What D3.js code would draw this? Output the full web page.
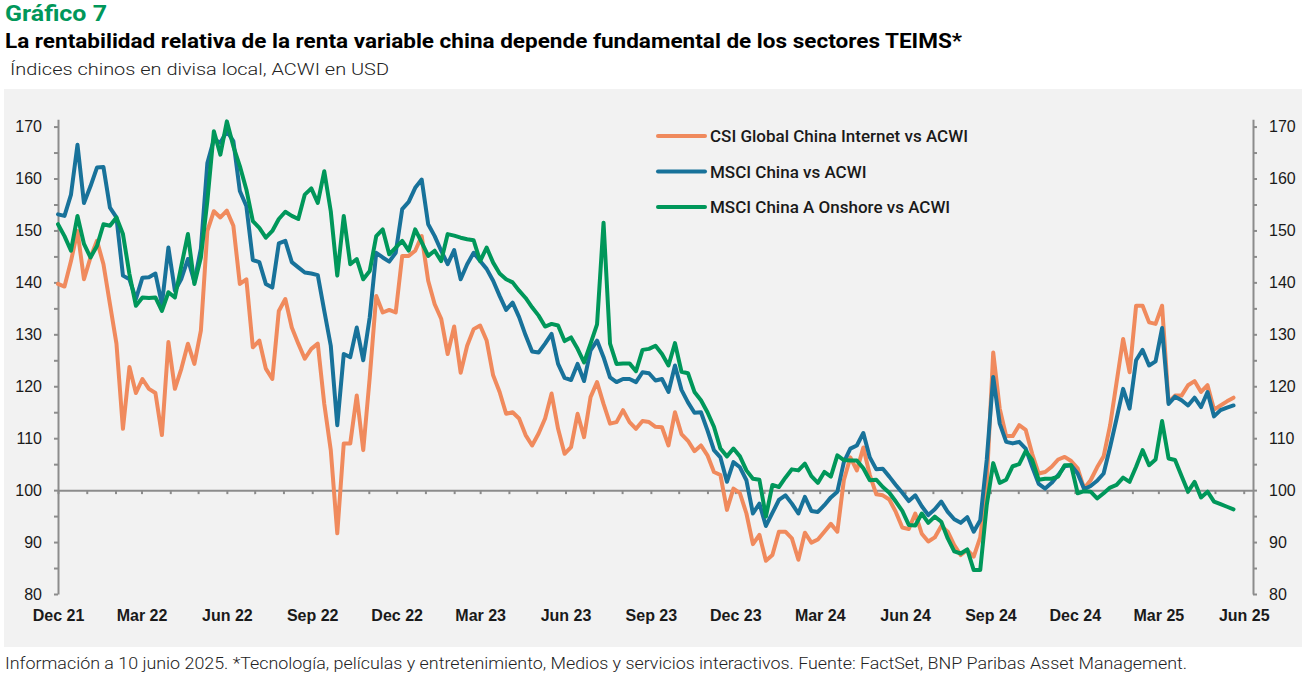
<!DOCTYPE html>
<html>
<head>
<meta charset="utf-8">
<script src="https://cdn.jsdelivr.net/npm/d3@7"></script>
<style>
  body { margin: 0; background: #fff; }
  svg { display: block; font-family: Roboto, "Noto Sans", sans-serif; }
  .axis path, .axis line { stroke: #8c8c8c; stroke-width: 2px; }
  .axis text { fill: #1a1a1a; font-size: 16px; }
</style>
</head>
<body>
<script>
var w = 1302;
var h = 678;

//Weekly observations, first one on the Dec 21 tick
var startDate = "2021-12-01";

//CSI Global China Internet vs ACWI
var internetVals = [139.7, 139.2, 144.1, 149.9, 140.6, 144.8, 148.0, 143.5, 135.8, 128.2,
    111.8, 123.7, 118.7, 121.4, 119.5, 118.7, 110.6, 128.5, 119.5, 123.4,
    128.2, 124.3, 130.7, 149.9, 153.7, 152.5, 153.8, 150.9, 139.7, 140.6,
    127.5, 128.8, 123.4, 121.4, 134.5, 136.8, 131.3, 128.2, 125.3, 127.2,
    128.2, 116.6, 107.7, 91.7, 109.0, 109.0, 118.2, 107.7, 121.7, 137.4,
    134.2, 134.7, 134.2, 145.1, 145.1, 146.1, 148.9, 140.3, 135.8, 133.0,
    126.2, 131.5, 122.6, 127.8, 131.0, 131.7, 128.8, 122.1, 118.9, 114.7,
    115.0, 113.8, 110.6, 108.6, 110.9, 113.8, 118.6, 111.8, 107.0, 108.3,
    114.7, 110.2, 117.9, 120.8, 116.6, 112.8, 113.1, 115.4, 113.1, 111.8,
    113.3, 113.1, 112.2, 112.1, 108.6, 115.0, 110.8, 109.5, 107.5, 108.6,
    106.7, 103.5, 102.9, 96.2, 100.3, 99.4, 95.5, 89.6, 91.4, 86.4,
    87.5, 92.0, 92.0, 90.7, 86.6, 91.8, 89.9, 90.5, 92.0, 93.5,
    92.0, 101.9, 106.3, 103.8, 108.2, 102.9, 99.2, 99.0, 98.2, 95.8,
    92.8, 92.5, 95.5, 91.6, 90.1, 90.9, 93.1, 92.0, 89.4, 87.5,
    88.5, 87.2, 90.9, 101.3, 126.5, 115.7, 110.4, 110.4, 112.5, 111.6,
    107.0, 103.2, 103.5, 104.5, 105.9, 106.4, 105.6, 104.2, 100.3, 101.9,
    104.4, 106.5, 112.5, 120.8, 129.1, 122.7, 135.5, 135.5, 132.3, 132.0,
    135.5, 116.9, 118.2, 118.2, 120.2, 121.0, 118.9, 120.2, 115.5, 116.3,
    117.1, 117.8];

//MSCI China vs ACWI
var chinaVals = [153.1, 152.8, 156.9, 166.5, 155.3, 158.5, 162.1, 162.2, 154.4, 152.5,
    141.3, 140.6, 136.8, 140.9, 141.0, 141.7, 135.8, 146.7, 138.4, 140.7,
    144.5, 140.1, 146.5, 163.0, 167.5, 166.9, 169.1, 167.2, 157.6, 154.7,
    144.3, 143.9, 139.7, 139.0, 147.5, 148.0, 143.9, 142.9, 141.9, 141.7,
    141.4, 134.5, 127.8, 112.5, 126.2, 125.6, 131.3, 125.0, 133.3, 145.7,
    144.8, 144.0, 145.7, 154.1, 155.5, 158.2, 159.8, 151.2, 148.9, 146.1,
    143.5, 146.2, 140.6, 143.5, 145.7, 144.1, 142.6, 140.3, 137.4, 134.7,
    136.1, 133.3, 129.8, 126.7, 126.5, 128.2, 130.1, 124.3, 121.6, 121.2,
    124.3, 121.0, 126.9, 128.8, 125.6, 121.7, 120.8, 121.4, 121.4, 120.8,
    122.7, 122.5, 121.1, 121.4, 118.9, 124.0, 119.3, 116.9, 114.9, 115.0,
    111.5, 107.7, 106.3, 101.6, 105.4, 104.4, 101.9, 95.5, 97.4, 93.1,
    95.6, 98.1, 99.0, 97.4, 95.5, 98.7, 96.0, 95.8, 97.1, 98.6,
    99.7, 105.4, 108.0, 108.6, 111.0, 106.3, 104.0, 104.1, 102.6, 101.0,
    99.5, 97.9, 99.0, 96.9, 95.2, 96.3, 97.8, 95.8, 94.4, 93.7,
    94.8, 92.0, 94.2, 105.8, 121.8, 112.8, 109.3, 109.0, 109.3, 108.0,
    104.5, 101.2, 100.3, 101.4, 102.9, 104.6, 104.8, 103.2, 100.2, 100.8,
    101.8, 103.2, 108.3, 113.8, 119.5, 115.7, 125.0, 127.0, 124.0, 124.8,
    131.2, 116.6, 118.0, 117.3, 116.3, 117.8, 116.0, 118.9, 114.2, 115.4,
    115.9, 116.3];

//MSCI China A Onshore vs ACWI
var chinaAVals = [151.2, 148.9, 146.1, 152.8, 147.4, 144.8, 147.0, 151.2, 150.9, 152.5,
    149.3, 141.6, 135.5, 137.1, 137.0, 137.1, 134.5, 138.1, 137.1, 143.2,
    149.3, 139.7, 144.8, 155.7, 169.1, 164.6, 171.0, 166.2, 162.4, 157.9,
    151.8, 150.5, 148.6, 149.9, 152.2, 153.6, 152.8, 152.2, 156.9, 158.1,
    155.3, 161.4, 153.7, 141.3, 152.8, 143.5, 144.5, 140.6, 142.2, 148.9,
    150.2, 145.4, 146.7, 148.0, 146.1, 150.2, 147.7, 145.1, 146.1, 144.1,
    149.3, 149.0, 148.6, 148.3, 148.1, 144.1, 146.7, 143.8, 141.7, 140.6,
    140.0, 138.4, 137.0, 135.2, 133.6, 131.5, 132.0, 131.7, 128.7, 129.4,
    127.2, 124.6, 128.2, 131.9, 151.5, 128.2, 124.3, 124.4, 124.4, 122.9,
    127.0, 127.2, 127.8, 126.2, 124.0, 128.3, 122.8, 122.5, 118.9, 117.3,
    115.0, 112.2, 108.0, 106.5, 108.0, 106.5, 103.8, 102.2, 102.0, 94.9,
    101.0, 100.6, 102.4, 104.0, 103.8, 105.1, 102.7, 101.4, 103.5, 102.6,
    106.7, 105.8, 105.7, 105.7, 104.2, 101.9, 102.0, 100.6, 99.5, 97.8,
    96.0, 93.3, 93.2, 95.5, 93.7, 94.9, 93.9, 90.7, 88.2, 87.8,
    88.6, 84.6, 84.6, 97.1, 105.2, 101.4, 102.0, 104.6, 105.0, 107.5,
    105.8, 102.0, 102.2, 102.2, 102.6, 104.8, 104.8, 99.4, 99.8, 99.7,
    98.4, 99.4, 100.5, 101.0, 102.4, 101.6, 104.5, 107.7, 104.8, 105.9,
    113.3, 106.1, 105.8, 102.7, 99.7, 101.6, 98.6, 99.7, 97.8, 97.3,
    96.8, 96.3];

var seriesNames = ["CSI Global China Internet vs ACWI", "MSCI China vs ACWI", "MSCI China A Onshore vs ACWI"];
var seriesColors = ["#f08a5d", "#18729a", "#00975a"];

var xTickLabels = ["Dec 21", "Mar 22", "Jun 22", "Sep 22", "Dec 22", "Mar 23", "Jun 23", "Sep 23",
    "Dec 23", "Mar 24", "Jun 24", "Sep 24", "Dec 24", "Mar 25", "Jun 25"];
var yTicks = [80, 85, 90, 95, 100, 105, 110, 115, 120, 125, 130, 135, 140, 145, 150, 155, 160, 165, 170];

var parseDay = d3.timeParse("%Y-%m-%d");
var parseLabel = d3.timeParse("%b %y");
var formatLabel = d3.timeFormat("%b %y");

var start = parseDay(startDate);
var dates = internetVals.map(function(d, i) { return d3.timeWeek.offset(start, i); });

var data = [internetVals, chinaVals, chinaAVals].map(function(vals, k) {
    return {
        name: seriesNames[k],
        color: seriesColors[k],
        values: vals.map(function(v, i) { return { date: dates[i], value: v }; })
    };
});

//Scales
var xScale = d3.scaleTime()
    .domain([start, parseDay("2025-06-11")])
    .range([58, 1253]);

var yScale = d3.scaleLinear()
    .domain([80, 171.4])
    .range([594, 119.3]);

var svg = d3.select("body")
    .append("svg")
    .attr("width", w)
    .attr("height", h);

//Plot background
svg.append("rect")
    .attr("x", 4)
    .attr("y", 89)
    .attr("width", w - 4)
    .attr("height", 558)
    .attr("fill", "#f2f2f2");

//Titles
svg.append("text")
    .attr("x", 5)
    .attr("y", 21)
    .attr("font-size", "22px")
    .attr("font-weight", "bold")
    .attr("fill", "#00975a")
    .attr("textLength", 102)
    .attr("lengthAdjust", "spacingAndGlyphs")
    .text("Gráfico 7");

svg.append("text")
    .attr("x", 5)
    .attr("y", 48)
    .attr("font-size", "21px")
    .attr("font-weight", "bold")
    .attr("fill", "#000")
    .attr("textLength", 957)
    .attr("lengthAdjust", "spacingAndGlyphs")
    .text("La rentabilidad relativa de la renta variable china depende fundamental de los sectores TEIMS*");

svg.append("text")
    .attr("x", 10)
    .attr("y", 75)
    .attr("font-size", "17px")
    .attr("font-weight", 300)
    .attr("fill", "#222")
    .attr("textLength", 379)
    .attr("lengthAdjust", "spacingAndGlyphs")
    .text("Índices chinos en divisa local, ACWI en USD");

svg.append("text")
    .attr("x", 5)
    .attr("y", 669)
    .attr("font-size", "16px")
    .attr("font-weight", 300)
    .attr("fill", "#222")
    .attr("textLength", 1182)
    .attr("lengthAdjust", "spacingAndGlyphs")
    .text("Información a 10 junio 2025. *Tecnología, películas y entretenimiento, Medios y servicios interactivos. Fuente: FactSet, BNP Paribas Asset Management.");

//Y axes, labels every 10 and minor ticks every 5
var yLabel = function(d) { return d % 10 === 0 ? d : ""; };

svg.append("g")
    .attr("class", "axis")
    .attr("transform", "translate(" + xScale.range()[0] + ",0)")
    .call(d3.axisLeft(yScale).tickValues(yTicks).tickSize(4).tickSizeOuter(0).tickPadding(12).tickFormat(yLabel));

svg.append("g")
    .attr("class", "axis")
    .attr("transform", "translate(" + xScale.range()[1] + ",0)")
    .call(d3.axisRight(yScale).tickValues(yTicks).tickSize(4).tickSizeOuter(0).tickPadding(12).tickFormat(yLabel));

//X axis crosses at 100 with monthly ticks
svg.append("g")
    .attr("class", "axis")
    .attr("transform", "translate(0," + yScale(100) + ")")
    .call(d3.axisBottom(xScale).ticks(d3.timeMonth.every(1)).tickSize(4).tickSizeOuter(0).tickFormat(""));

//Quarter labels under the plot
var xLabelAxis = svg.append("g")
    .attr("class", "axis")
    .attr("transform", "translate(0," + yScale(80) + ")")
    .call(d3.axisBottom(xScale)
        .tickValues(xTickLabels.map(function(d) { return parseLabel(d); }))
        .tickSize(0)
        .tickPadding(16)
        .tickFormat(formatLabel));
xLabelAxis.select(".domain").remove();
xLabelAxis.selectAll("text")
    .attr("font-size", "16px")
    .attr("font-weight", "bold");

//Lines
var line = d3.line()
    .x(function(d) { return xScale(d.date); })
    .y(function(d) { return yScale(d.value); });

svg.selectAll(".series")
    .data(data)
    .enter()
    .append("path")
    .attr("class", "series")
    .attr("d", function(d) { return line(d.values); })
    .attr("fill", "none")
    .attr("stroke", function(d) { return d.color; })
    .attr("stroke-width", 4)
    .attr("stroke-linejoin", "round")
    .attr("stroke-linecap", "round");

//Legend
var legend = svg.selectAll(".legend")
    .data(data)
    .enter()
    .append("g")
    .attr("class", "legend")
    .attr("transform", function(d, i) { return "translate(658," + (136 + i * 35.5) + ")"; });

legend.append("line")
    .attr("x1", 0)
    .attr("x2", 47)
    .attr("stroke", function(d) { return d.color; })
    .attr("stroke-width", 4)
    .attr("stroke-linecap", "round");

legend.append("text")
    .attr("x", 52)
    .attr("y", 6)
    .attr("font-size", "17px")
    .attr("font-weight", 500)
    .attr("fill", "#1a1a1a")
    .text(function(d) { return d.name; });
</script>
</body>
</html>
